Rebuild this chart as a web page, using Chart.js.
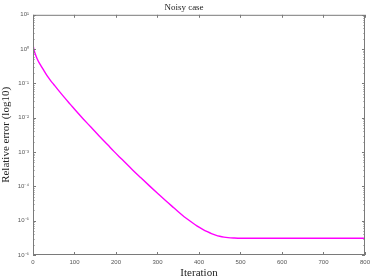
<!DOCTYPE html>
<html>
<head>
<meta charset="utf-8">
<script src="https://cdn.jsdelivr.net/npm/chart.js@4.4.1/dist/chart.umd.min.js"></script>
<style>
    html, body { margin: 0; padding: 0; background: #fff; }
    #wrap { width: 374px; height: 280px; }
</style>
</head>
<body>
<div id="wrap"><canvas id="errChart" width="374" height="280"></canvas></div>
<script>
// Values (relative error, stored as log10)
const iterations = [0, 2, 5, 10, 15, 20, 25, 30, 36, 42, 50, 60, 75, 90, 105, 120, 140, 160, 180, 195, 215, 240, 260,
    282, 300, 320, 340, 360, 370, 380, 390, 400, 410, 420, 430, 440, 450, 460, 470, 485, 500, 550, 600, 700, 800];
const logError = [0.12, 0.0, -0.13, -0.28, -0.40, -0.50, -0.60, -0.70, -0.81, -0.91, -1.03, -1.18, -1.40, -1.61, -1.82,
    -2.02, -2.28, -2.54, -2.79, -2.98, -3.22, -3.52, -3.75,
    -4.00, -4.20, -4.42, -4.63, -4.84, -4.935, -5.025, -5.11, -5.19, -5.26, -5.32, -5.375, -5.42, -5.455, -5.48,
    -5.495, -5.505, -5.51, -5.51, -5.51, -5.51, -5.51];
const xTicks = [0, 100, 200, 300, 400, 500, 600, 700, 800];
const yDecades = [-6, -5, -4, -3, -2, -1, 0, 1];

const supMap = { '-': '\u207B', '0': '\u2070', '1': '\u00B9', '2': '\u00B2', '3': '\u00B3', '4': '\u2074', '5': '\u2075', '6': '\u2076', '7': '\u2077', '8': '\u2078', '9': '\u2079' };
function powLabel(n) {
    return '10' + String(n).split('').map(c => supMap[c]).join('');
}

const AXIS_COLOR = '#7a7a7a';
const serif = '"Liberation Serif", "DejaVu Serif", serif';

// Box around the plot with MATLAB-like inward ticks
const boxTicks = {
    id: 'boxTicks',
    afterDraw(chart) {
        const { ctx, chartArea: a, scales } = chart;
        ctx.save();
        ctx.strokeStyle = AXIS_COLOR;
        ctx.lineWidth = 1;
        ctx.strokeRect(a.left + 0.5, a.top + 0.5, a.right - a.left - 1, a.bottom - a.top - 1);
        ctx.beginPath();
        xTicks.forEach(v => {
            const px = Math.round(scales.x.getPixelForValue(v)) + 0.5;
            ctx.moveTo(px, a.bottom); ctx.lineTo(px, a.bottom - 3);
            ctx.moveTo(px, a.top); ctx.lineTo(px, a.top + 3);
        });
        yDecades.forEach(d => {
            for (let m = 1; m <= 9; m++) {
                const v = m * Math.pow(10, d);
                if (v > 10) break;
                const py = Math.round(scales.y.getPixelForValue(v)) + 0.5;
                const len = m === 1 ? 3 : 1.5;
                ctx.moveTo(a.left, py); ctx.lineTo(a.left + len, py);
                ctx.moveTo(a.right, py); ctx.lineTo(a.right - len, py);
            }
        });
        ctx.stroke();
        ctx.restore();
    }
};

const ctx = document.getElementById('errChart').getContext('2d');
new Chart(ctx, {
    type: 'line',
    data: {
        datasets: [{
            data: iterations.map((it, i) => ({ x: it, y: Math.pow(10, logError[i]) })),
            borderColor: '#ff00ff',
            borderWidth: 1.4,
            pointRadius: 0,
            cubicInterpolationMode: 'monotone',
            fill: false
        }]
    },
    options: {
        responsive: false,
        animation: false,
        layout: { padding: { left: 0, right: 6, top: 0, bottom: 0 } },
        plugins: {
            legend: { display: false },
            tooltip: { enabled: false },
            title: {
                display: true,
                text: 'Noisy case',
                color: '#222',
                font: { family: serif, size: 9, weight: 'normal' },
                padding: { top: 2, bottom: 2 }
            }
        },
        scales: {
            x: {
                type: 'linear',
                min: 0,
                max: 800,
                afterBuildTicks: s => { s.ticks = xTicks.map(v => ({ value: v })); },
                afterFit: s => { s.height = 25; },
                grid: { display: false, drawTicks: false },
                border: { display: false },
                ticks: { color: '#555', font: { family: 'Liberation Sans, Arial', size: 6 }, padding: 4, maxRotation: 0 },
                title: {
                    display: true, text: 'Iteration', color: '#222',
                    font: { family: serif, size: 11 }, padding: { top: 0, bottom: 0 }
                }
            },
            y: {
                type: 'logarithmic',
                min: 1e-6,
                max: 10,
                afterBuildTicks: s => { s.ticks = yDecades.map(d => ({ value: Math.pow(10, d), major: true })); },
                afterFit: s => { s.width = 33; },
                grid: { display: false, drawTicks: false },
                border: { display: false },
                ticks: {
                    color: '#555',
                    font: { family: 'Liberation Sans, Arial', size: 6 },
                    padding: 4,
                    autoSkip: false,
                    callback: v => powLabel(Math.round(Math.log10(v)))
                },
                title: {
                    display: true, text: 'Relative error (log10)', color: '#222',
                    font: { family: serif, size: 11 }, padding: { top: 0, bottom: 0 }
                }
            }
        }
    },
    plugins: [boxTicks]
});
</script>
</body>
</html>
